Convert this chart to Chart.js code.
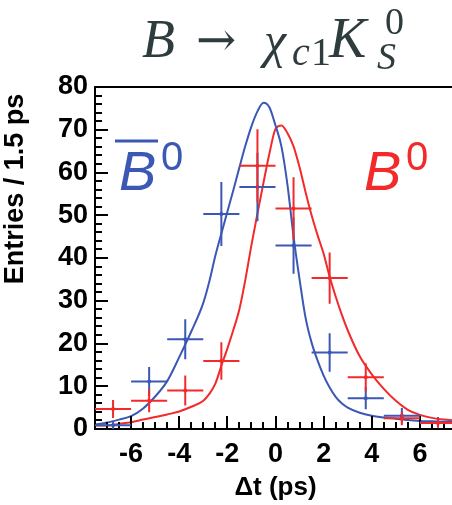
<!DOCTYPE html>
<html>
<head>
<meta charset="utf-8">
<script src="https://cdn.jsdelivr.net/npm/chart.js@4"></script>
<style>
  html, body { margin: 0; padding: 0; background: #fff; overflow: hidden; }
  canvas { display: block; }
</style>
</head>
<body>
<canvas id="dtChart" width="460" height="505"></canvas>
<script>
// histogram bins (1.5 ps wide)
const binCenters = [-6.75, -5.25, -3.75, -2.25, -0.75, 0.75, 2.25, 3.75, 5.25, 6.75];
const binHalfWidth = 0.75;

// B0bar tagged entries
const bbarCounts = [0.9, 11.1, 21.0, 50.3, 56.6, 42.9, 17.9, 7.2, 3.1, 1.6];
const bbarErrors = [1.0, 3.4, 4.7, 7.5, 8.0, 6.6, 4.5, 2.6, 1.8, 1.2];

// B0 tagged entries
const b0Counts = [4.7, 6.6, 9.0, 15.9, 61.6, 51.6, 35.3, 12.1, 2.5, 1.4];
const b0Errors = [2.1, 2.7, 3.5, 4.4, 8.5, 7.3, 6.0, 3.3, 1.6, 1.1];

// fit curves
const curveT = [-7.5, -7, -6.5, -6, -5.5, -5, -4.5, -4, -3.5, -3, -2.75, -2.5, -2.25, -2, -1.75, -1.5, -1.25, -1, -0.75, -0.5, -0.25,
                0, 0.25, 0.5, 0.75, 1, 1.25, 1.5, 1.75, 2, 2.25, 2.5, 2.75, 3, 3.5, 4, 4.5, 5, 5.5, 6, 6.5, 7, 7.5];
const bbarCurve = [1.0, 1.5, 2.2, 3.0, 4.8, 7.6, 11.2, 16.8, 22.8, 29.5, 34.5, 40.5, 45.7, 50.8, 55.9, 61.2, 66.3, 70.8, 74.3, 76.3, 75.2,
                   71.0, 66.0, 57.0, 45.0, 35.0, 26.0, 20.2, 16.0, 12.5, 9.7, 7.5, 6.0, 5.0, 3.8, 3.1, 2.7, 2.4, 2.1, 1.9, 1.8, 1.7, 1.7];
const b0Curve = [0.8, 0.8, 1.2, 1.6, 2.2, 2.8, 3.4, 4.1, 5.2, 6.6, 8.2, 10.6, 14.8, 18.8, 23.2, 28.0, 35.0, 43.0, 50.4, 57.6, 64.5,
                 70.2, 71.0, 69.2, 66.1, 61.2, 55.4, 50.0, 45.3, 41.0, 35.6, 31.0, 26.8, 23.1, 17.0, 12.8, 9.4, 6.6, 4.5, 3.3, 2.6, 2.2, 2.0];

// axis ticks
const xTickValues = [-6, -4, -2, 0, 2, 4, 6];
const yTickValues = [0, 10, 20, 30, 40, 50, 60, 70, 80];

const BLUE = "#3a58b4";
const RED = "#f22a2a";
const AXIS_FONT = '"Liberation Sans", Arial, sans-serif';

const toXY = (xs, ys) => xs.map((x, i) => ({x: x, y: ys[i]}));

// inward ROOT style ticks + closing frame line
const frameTicks = {
    id: "frameTicks",
    afterDatasetsDraw(chart) {
        const {ctx, chartArea, scales: {x, y}} = chart;
        ctx.save();
        ctx.strokeStyle = "#000";
        ctx.lineWidth = 2;
        ctx.beginPath();
        ctx.moveTo(chartArea.left, chartArea.top);
        ctx.lineTo(chartArea.right, chartArea.top);
        ctx.lineTo(chartArea.right, chartArea.bottom);
        // y ticks: major every 10, minor every 2
        for (let v = y.min; v <= y.max + 0.001; v += 2) {
            const py = Math.round(y.getPixelForValue(v));
            const len = (v % 10 === 0) ? 13 : 7;
            ctx.moveTo(chartArea.left, py);
            ctx.lineTo(chartArea.left + len, py);
        }
        // x ticks: major every 2, minor every 0.5
        for (let v = -7.5; v <= 7.5 + 0.001; v += 0.5) {
            const px = Math.round(x.getPixelForValue(v));
            const len = (Math.abs(v % 2) < 0.001) ? 13 : 7;
            ctx.moveTo(px, chartArea.bottom);
            ctx.lineTo(px, chartArea.bottom - len);
        }
        ctx.stroke();
        ctx.restore();
    }
};

// horizontal (bin width) and vertical (stat error) bars
const errorBars = {
    id: "errorBars",
    afterDatasetsDraw(chart) {
        const {ctx, chartArea, scales: {x, y}} = chart;
        ctx.save();
        ctx.beginPath();
        ctx.rect(chartArea.left, chartArea.top, chartArea.width, chartArea.height);
        ctx.clip();
        ctx.lineWidth = 2;
        chart.data.datasets.forEach(ds => {
            if (!ds.errors) return;
            ctx.strokeStyle = ds.borderColor;
            ctx.beginPath();
            ds.data.forEach((p, i) => {
                const px = x.getPixelForValue(p.x);
                const py = y.getPixelForValue(p.y);
                ctx.moveTo(x.getPixelForValue(p.x - binHalfWidth), py);
                ctx.lineTo(x.getPixelForValue(p.x + binHalfWidth), py);
                ctx.moveTo(px, y.getPixelForValue(p.y + ds.errors[i]));
                ctx.lineTo(px, y.getPixelForValue(p.y - ds.errors[i]));
            });
            ctx.stroke();
        });
        ctx.restore();
    }
};

// title, in-plot labels and axis titles
const textLabels = {
    id: "textLabels",
    afterDraw(chart) {
        const {ctx, chartArea, scales: {x, y}} = chart;
        ctx.save();
        ctx.textBaseline = "alphabetic";

        // B -> chi_c1 K_S^0
        ctx.fillStyle = "#2f3c3e";
        ctx.font = 'italic 54px "Liberation Serif"';
        ctx.fillText("B", 142, 57);
        ctx.font = '48px "DejaVu Serif"';
        ctx.fillText("\u2192", 196, 56);
        ctx.font = 'italic 50px "Liberation Serif"';
        ctx.fillText("\u03c7", 264, 57);
        ctx.font = 'italic 40px "Liberation Serif"';
        ctx.fillText("c", 292, 65);
        ctx.font = '40px "Liberation Serif"';
        ctx.fillText("1", 311, 65);
        ctx.font = 'italic 56px "Liberation Serif"';
        ctx.fillText("K", 329, 57);
        ctx.font = '38px "Liberation Serif"';
        ctx.fillText("0", 385, 34);
        ctx.font = 'italic 38px "Liberation Serif"';
        ctx.fillText("S", 377, 69);

        // B0bar label
        ctx.fillStyle = BLUE;
        ctx.strokeStyle = BLUE;
        ctx.font = 'italic 56px "Liberation Sans"';
        ctx.fillText("B", 119, 190);
        ctx.lineWidth = 3;
        ctx.beginPath();
        ctx.moveTo(115, 141);
        ctx.lineTo(158, 141);
        ctx.stroke();
        ctx.font = '40px "Liberation Sans"';
        ctx.fillText("0", 161, 170);

        // B0 label
        ctx.fillStyle = RED;
        ctx.font = 'italic 56px "Liberation Sans"';
        ctx.fillText("B", 364, 190);
        ctx.font = '40px "Liberation Sans"';
        ctx.fillText("0", 406, 170);

        // axis titles
        ctx.fillStyle = "#000";
        ctx.font = "bold 26px " + AXIS_FONT;
        ctx.textAlign = "center";
        ctx.textBaseline = "middle";
        ctx.fillText("\u0394t (ps)", x.getPixelForValue(0), 488);

        ctx.translate(16, 189);
        ctx.rotate(-Math.PI / 2);
        ctx.font = "bold 27px " + AXIS_FONT;
        ctx.fillText("Entries / 1.5 ps", 0, 0);
        ctx.restore();
    }
};

const ctx = document.getElementById("dtChart").getContext("2d");

new Chart(ctx, {
    type: "scatter",
    data: {
        datasets: [{
            label: "B0bar points",
            data: toXY(binCenters, bbarCounts),
            errors: bbarErrors,
            borderColor: BLUE,
            backgroundColor: BLUE,
            pointRadius: 2,
            pointBorderWidth: 0
        }, {
            label: "B0 points",
            data: toXY(binCenters, b0Counts),
            errors: b0Errors,
            borderColor: RED,
            backgroundColor: RED,
            pointRadius: 2,
            pointBorderWidth: 0
        }, {
            label: "B0bar fit",
            data: toXY(curveT, bbarCurve),
            showLine: true,
            borderColor: BLUE,
            borderWidth: 2,
            pointRadius: 0,
            cubicInterpolationMode: "monotone"
        }, {
            label: "B0 fit",
            data: toXY(curveT, b0Curve),
            showLine: true,
            borderColor: RED,
            borderWidth: 2,
            pointRadius: 0,
            cubicInterpolationMode: "monotone"
        }]
    },
    options: {
        responsive: false,
        animation: false,
        events: [],
        layout: {
            padding: {top: 87, right: 2, left: 0, bottom: 0}
        },
        plugins: {
            legend: {display: false},
            tooltip: {enabled: false}
        },
        scales: {
            x: {
                type: "linear",
                min: -7.5,
                max: 7.5,
                afterBuildTicks: (scale) => {
                    scale.ticks = xTickValues.map(v => ({value: v}));
                },
                afterFit: (scale) => { scale.height = 76; },
                ticks: {
                    autoSkip: false,
                    maxRotation: 0,
                    padding: 9,
                    color: "#000",
                    font: {family: AXIS_FONT, size: 27, weight: "bold"},
                    callback: (v) => String(v)
                },
                grid: {display: false, drawTicks: false},
                border: {display: true, color: "#000", width: 2}
            },
            y: {
                type: "linear",
                min: 0,
                max: 80,
                afterBuildTicks: (scale) => {
                    scale.ticks = yTickValues.map(v => ({value: v}));
                },
                afterFit: (scale) => { scale.width = 95; },
                ticks: {
                    padding: 7,
                    color: "#000",
                    font: {family: AXIS_FONT, size: 27, weight: "bold"},
                    callback: (v) => String(v)
                },
                grid: {display: false, drawTicks: false},
                border: {display: true, color: "#000", width: 2}
            }
        }
    },
    plugins: [frameTicks, errorBars, textLabels]
});
</script>
</body>
</html>
